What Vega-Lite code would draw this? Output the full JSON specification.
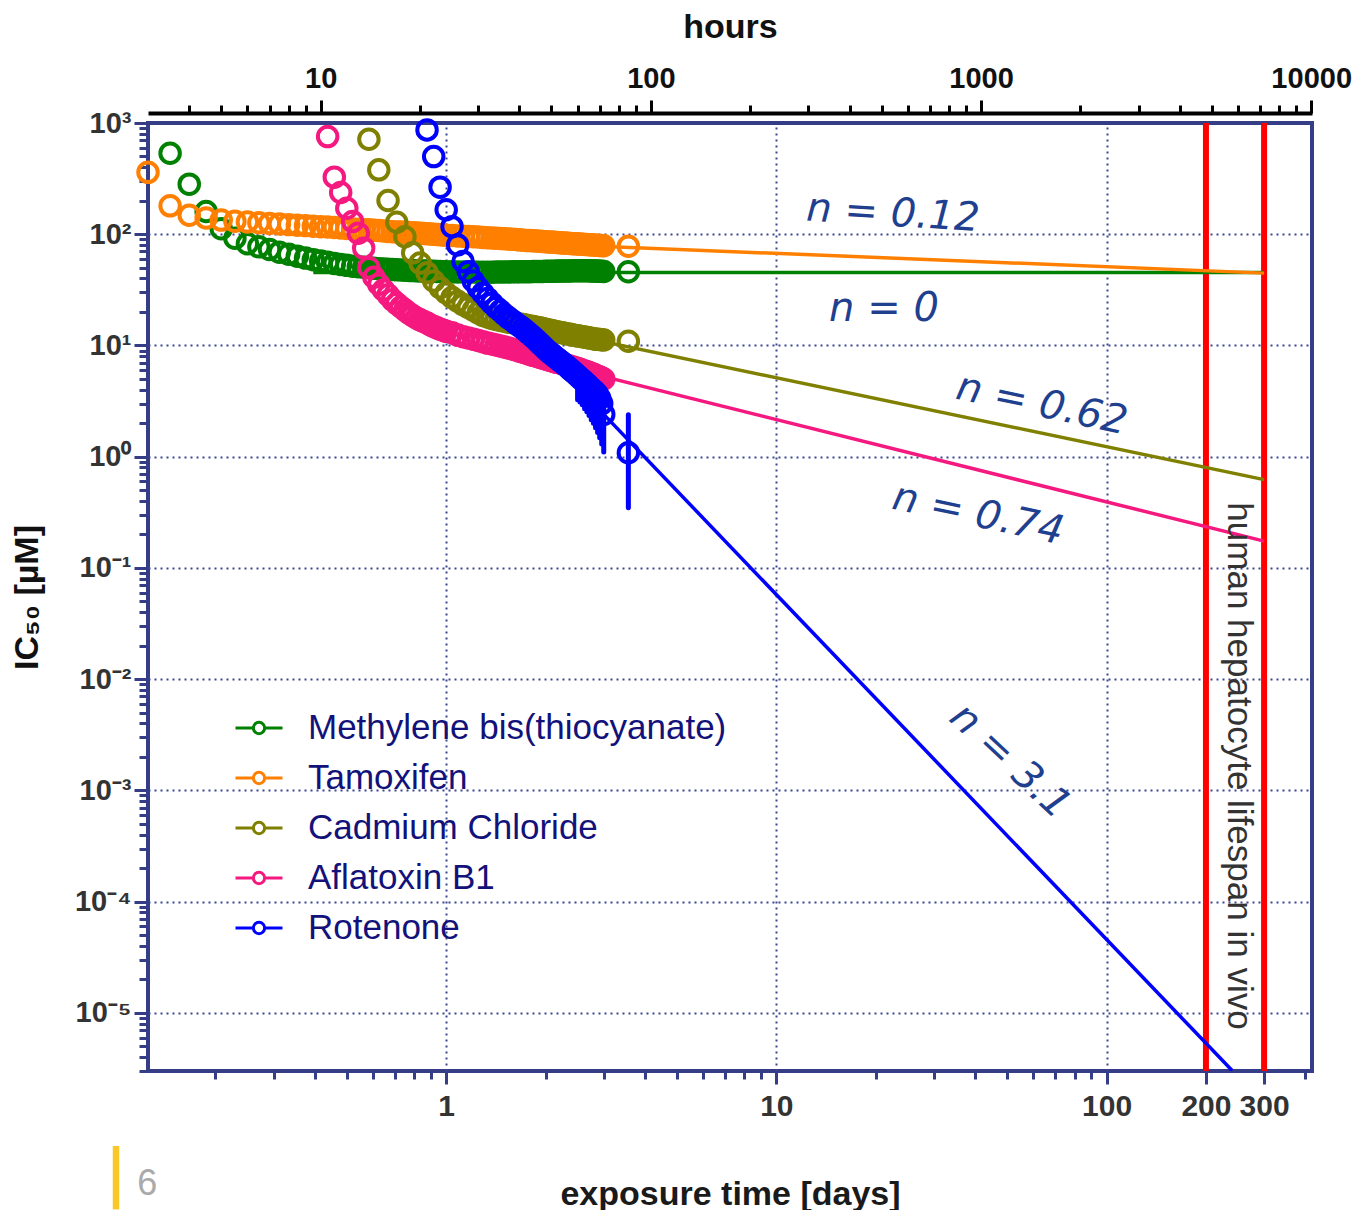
{
  "$schema": "https://vega.github.io/schema/vega-lite/v6.json",
  "autosize": {"type": "none"},
  "padding": {"left": 148, "top": 123, "right": 49, "bottom": 139},
  "width": 1164,
  "height": 948,
  "background": "white",
  "config": {
    "view": {"stroke": "#343D85", "strokeWidth": 4},
    "axis": {"labelFont": "Liberation Sans", "titleFont": "Liberation Sans", "labelFontWeight": "bold", "titleFontWeight": "bold", "labelOverlap": false, "labelFlush": false}
  },
  "datasets": {
    "pts": [
      {"c":"M","h":3.5,"v":535},{"c":"M","h":4,"v":282},{"c":"M","h":4.5,"v":160},{"c":"M","h":5,"v":112},{"c":"M","h":5.5,"v":92},{"c":"M","h":6,"v":82},{"c":"M","h":6.5,"v":77},{"c":"M","h":7,"v":73},{"c":"M","h":7.5,"v":69},{"c":"M","h":8,"v":66},{"c":"M","h":8.5,"v":63.5},{"c":"M","h":9,"v":61},{"c":"M","h":9.5,"v":59},{"c":"M","h":10,"v":57.5},{"c":"M","h":10.5,"v":56},{"c":"M","h":11,"v":54.5},{"c":"M","h":11.5,"v":53.5},{"c":"M","h":12,"v":52.5},{"c":"M","h":12.5,"v":51.5},{"c":"M","h":13,"v":51},{"c":"M","h":13.5,"v":50.5},{"c":"M","h":14,"v":50},{"c":"M","h":14.5,"v":49.5},{"c":"M","h":15,"v":49},{"c":"M","h":15.5,"v":48.7},{"c":"M","h":16,"v":48.4},{"c":"M","h":16.5,"v":48.1},{"c":"M","h":17,"v":47.9},{"c":"M","h":17.5,"v":47.7},{"c":"M","h":18,"v":47.5},{"c":"M","h":18.5,"v":47.3},{"c":"M","h":19,"v":47.1},{"c":"M","h":19.5,"v":47},{"c":"M","h":20,"v":46.8},{"c":"M","h":20.5,"v":46.7},{"c":"M","h":21,"v":46.6},{"c":"M","h":21.5,"v":46.5},{"c":"M","h":22,"v":46.4},{"c":"M","h":22.5,"v":46.3},{"c":"M","h":23,"v":46.2},{"c":"M","h":23.5,"v":46.1},{"c":"M","h":24,"v":46},
      {"c":"M","h":25,"v":45.9},{"c":"M","h":26,"v":45.8},{"c":"M","h":27,"v":45.8},{"c":"M","h":28,"v":45.7},{"c":"M","h":29,"v":45.7},{"c":"M","h":30,"v":45.6},{"c":"M","h":31,"v":45.6},{"c":"M","h":32,"v":45.6},{"c":"M","h":33,"v":45.6},{"c":"M","h":34,"v":45.7},{"c":"M","h":35,"v":45.7},{"c":"M","h":36,"v":45.8},{"c":"M","h":37,"v":45.8},{"c":"M","h":38,"v":45.9},{"c":"M","h":39,"v":45.9},{"c":"M","h":40,"v":46},{"c":"M","h":41,"v":46},{"c":"M","h":42,"v":46.1},{"c":"M","h":43,"v":46.1},{"c":"M","h":44,"v":46.2},{"c":"M","h":45,"v":46.2},{"c":"M","h":46,"v":46.3},{"c":"M","h":47,"v":46.3},{"c":"M","h":48,"v":46.4},{"c":"M","h":49,"v":46.4},{"c":"M","h":50,"v":46.5},{"c":"M","h":51,"v":46.5},{"c":"M","h":52,"v":46.6},{"c":"M","h":53,"v":46.6},{"c":"M","h":54,"v":46.7},{"c":"M","h":55,"v":46.7},{"c":"M","h":56,"v":46.8},{"c":"M","h":57,"v":46.8},{"c":"M","h":58,"v":46.9},{"c":"M","h":59,"v":46.9},{"c":"M","h":60,"v":47},{"c":"M","h":61,"v":47},{"c":"M","h":62,"v":47},{"c":"M","h":63,"v":47},{"c":"M","h":64,"v":46.9},{"c":"M","h":65,"v":46.9},{"c":"M","h":66,"v":46.8},{"c":"M","h":67,"v":46.8},{"c":"M","h":68,"v":46.7},{"c":"M","h":69,"v":46.6},{"c":"M","h":70,"v":46.5},{"c":"M","h":71,"v":46.4},{"c":"M","h":72,"v":46.2},{"c":"M","h":85.5,"v":46},
      {"c":"T","h":3,"v":360},{"c":"T","h":3.5,"v":180},{"c":"T","h":4,"v":148},{"c":"T","h":4.5,"v":140},{"c":"T","h":5,"v":134},{"c":"T","h":5.5,"v":131},{"c":"T","h":6,"v":129},{"c":"T","h":6.5,"v":127},{"c":"T","h":7,"v":125},{"c":"T","h":7.5,"v":123.5},{"c":"T","h":8,"v":122},{"c":"T","h":8.5,"v":120.5},{"c":"T","h":9,"v":119.5},{"c":"T","h":9.5,"v":118},{"c":"T","h":10,"v":117},{"c":"T","h":10.5,"v":116},{"c":"T","h":11,"v":115},{"c":"T","h":11.5,"v":114},{"c":"T","h":12,"v":112.5},{"c":"T","h":12.5,"v":111.5},{"c":"T","h":13,"v":111},{"c":"T","h":13.5,"v":110},{"c":"T","h":14,"v":109.5},{"c":"T","h":14.5,"v":108.5},{"c":"T","h":15,"v":108},{"c":"T","h":15.5,"v":107},{"c":"T","h":16,"v":106},{"c":"T","h":16.5,"v":105.5},{"c":"T","h":17,"v":105},{"c":"T","h":17.5,"v":104.5},{"c":"T","h":18,"v":104},{"c":"T","h":18.5,"v":103.5},{"c":"T","h":19,"v":103},{"c":"T","h":19.5,"v":102.5},{"c":"T","h":20,"v":102},{"c":"T","h":20.5,"v":101.5},{"c":"T","h":21,"v":101},{"c":"T","h":21.5,"v":100.5},{"c":"T","h":22,"v":100},{"c":"T","h":22.5,"v":99.5},{"c":"T","h":23,"v":99},{"c":"T","h":23.5,"v":98.5},{"c":"T","h":24,"v":98},
      {"c":"T","h":25,"v":97.5},{"c":"T","h":26,"v":96.5},{"c":"T","h":27,"v":96},{"c":"T","h":28,"v":95.5},{"c":"T","h":29,"v":95},{"c":"T","h":30,"v":94.5},{"c":"T","h":31,"v":93.5},{"c":"T","h":32,"v":93},{"c":"T","h":33,"v":92.5},{"c":"T","h":34,"v":92},{"c":"T","h":35,"v":91.5},{"c":"T","h":36,"v":91},{"c":"T","h":37,"v":90.5},{"c":"T","h":38,"v":90},{"c":"T","h":39,"v":89.5},{"c":"T","h":40,"v":89},{"c":"T","h":41,"v":88.5},{"c":"T","h":42,"v":88},{"c":"T","h":43,"v":87.7},{"c":"T","h":44,"v":87.3},{"c":"T","h":45,"v":87},{"c":"T","h":46,"v":86.5},{"c":"T","h":47,"v":86},{"c":"T","h":48,"v":85.5},{"c":"T","h":49,"v":85.2},{"c":"T","h":50,"v":85},{"c":"T","h":51,"v":84.5},{"c":"T","h":52,"v":84.2},{"c":"T","h":53,"v":84},{"c":"T","h":54,"v":83.5},{"c":"T","h":55,"v":83.2},{"c":"T","h":56,"v":83},{"c":"T","h":57,"v":82.6},{"c":"T","h":58,"v":82.3},{"c":"T","h":59,"v":82},{"c":"T","h":60,"v":81.8},{"c":"T","h":61,"v":81.5},{"c":"T","h":62,"v":81.2},{"c":"T","h":63,"v":81},{"c":"T","h":64,"v":80.7},{"c":"T","h":65,"v":80.4},{"c":"T","h":66,"v":80.2},{"c":"T","h":67,"v":80},{"c":"T","h":68,"v":79.7},{"c":"T","h":69,"v":79.5},{"c":"T","h":70,"v":79.2},{"c":"T","h":71,"v":79},{"c":"T","h":72,"v":78.8},{"c":"T","h":85.5,"v":78},
      {"c":"C","h":14,"v":715},{"c":"C","h":15,"v":379},{"c":"C","h":16,"v":201},{"c":"C","h":17,"v":128},{"c":"C","h":18,"v":95},{"c":"C","h":19,"v":68},{"c":"C","h":20,"v":55},{"c":"C","h":21,"v":45},{"c":"C","h":22,"v":38},{"c":"C","h":23,"v":33},{"c":"C","h":24,"v":29.6},{"c":"C","h":25,"v":27},{"c":"C","h":26,"v":25},{"c":"C","h":27,"v":23.3},{"c":"C","h":28,"v":22},{"c":"C","h":29,"v":20.8},{"c":"C","h":30,"v":19.6},{"c":"C","h":31,"v":18.6},{"c":"C","h":32,"v":18},{"c":"C","h":33,"v":17.5},{"c":"C","h":34,"v":17.1},{"c":"C","h":35,"v":16.8},{"c":"C","h":36,"v":16.5},{"c":"C","h":37,"v":16.2},{"c":"C","h":38,"v":16},{"c":"C","h":39,"v":15.8},{"c":"C","h":40,"v":15.6},{"c":"C","h":41,"v":15.4},{"c":"C","h":42,"v":15.2},{"c":"C","h":43,"v":15},{"c":"C","h":44,"v":14.8},{"c":"C","h":45,"v":14.6},{"c":"C","h":46,"v":14.4},{"c":"C","h":47,"v":14.2},{"c":"C","h":48,"v":14},{"c":"C","h":49,"v":13.8},{"c":"C","h":50,"v":13.6},{"c":"C","h":51,"v":13.4},{"c":"C","h":52,"v":13.3},{"c":"C","h":53,"v":13.1},{"c":"C","h":54,"v":13},{"c":"C","h":55,"v":12.8},{"c":"C","h":56,"v":12.7},{"c":"C","h":57,"v":12.6},{"c":"C","h":58,"v":12.4},{"c":"C","h":59,"v":12.3},{"c":"C","h":60,"v":12.2},{"c":"C","h":61,"v":12.1},{"c":"C","h":62,"v":12},{"c":"C","h":63,"v":11.9},{"c":"C","h":64,"v":11.8},{"c":"C","h":65,"v":11.7},{"c":"C","h":66,"v":11.6},{"c":"C","h":67,"v":11.5},{"c":"C","h":68,"v":11.4},{"c":"C","h":69,"v":11.35},{"c":"C","h":70,"v":11.3},{"c":"C","h":71,"v":11.25},{"c":"C","h":72,"v":11.2},{"c":"C","h":85.5,"v":10.9},
      {"c":"A","h":10.5,"v":755},{"c":"A","h":11,"v":326},{"c":"A","h":11.5,"v":237},{"c":"A","h":12,"v":171},{"c":"A","h":12.5,"v":130},{"c":"A","h":13,"v":102},{"c":"A","h":13.5,"v":75},{"c":"A","h":14,"v":50},{"c":"A","h":14.5,"v":41},{"c":"A","h":15,"v":35.5},{"c":"A","h":15.5,"v":31.5},{"c":"A","h":16,"v":28.5},{"c":"A","h":16.5,"v":25.7},{"c":"A","h":17,"v":23.8},{"c":"A","h":17.5,"v":22.2},{"c":"A","h":18,"v":20.8},{"c":"A","h":18.5,"v":19.5},{"c":"A","h":19,"v":18.5},{"c":"A","h":19.5,"v":17.7},{"c":"A","h":20,"v":17},{"c":"A","h":20.5,"v":16.4},{"c":"A","h":21,"v":15.9},{"c":"A","h":21.5,"v":15.3},{"c":"A","h":22,"v":14.8},{"c":"A","h":22.5,"v":14.4},{"c":"A","h":23,"v":14},{"c":"A","h":23.5,"v":13.7},{"c":"A","h":24,"v":13.4},
      {"c":"A","h":25,"v":13},{"c":"A","h":26,"v":12.4},{"c":"A","h":27,"v":12},{"c":"A","h":28,"v":11.7},{"c":"A","h":29,"v":11.4},{"c":"A","h":30,"v":11.1},{"c":"A","h":31,"v":10.8},{"c":"A","h":32,"v":10.5},{"c":"A","h":33,"v":10.3},{"c":"A","h":34,"v":10.1},{"c":"A","h":35,"v":9.9},{"c":"A","h":36,"v":9.7},{"c":"A","h":37,"v":9.5},{"c":"A","h":38,"v":9.3},{"c":"A","h":39,"v":9.1},{"c":"A","h":40,"v":8.9},{"c":"A","h":41,"v":8.7},{"c":"A","h":42,"v":8.5},{"c":"A","h":43,"v":8.3},{"c":"A","h":44,"v":8.15},{"c":"A","h":45,"v":8},{"c":"A","h":46,"v":7.85},{"c":"A","h":47,"v":7.7},{"c":"A","h":48,"v":7.55},{"c":"A","h":49,"v":7.4},{"c":"A","h":50,"v":7.3},{"c":"A","h":51,"v":7.15},{"c":"A","h":52,"v":7.05},{"c":"A","h":53,"v":6.95},{"c":"A","h":54,"v":6.85},{"c":"A","h":55,"v":6.7},{"c":"A","h":56,"v":6.6},{"c":"A","h":57,"v":6.5},{"c":"A","h":58,"v":6.4},{"c":"A","h":59,"v":6.3},{"c":"A","h":60,"v":6.2},{"c":"A","h":61,"v":6.1},{"c":"A","h":62,"v":6},{"c":"A","h":63,"v":5.9},{"c":"A","h":64,"v":5.8},{"c":"A","h":65,"v":5.7},{"c":"A","h":66,"v":5.6},{"c":"A","h":67,"v":5.5},{"c":"A","h":68,"v":5.4},{"c":"A","h":69,"v":5.3},{"c":"A","h":70,"v":5.2},{"c":"A","h":71,"v":5.1},{"c":"A","h":72,"v":5},
      {"c":"R","h":21,"v":867},{"c":"R","h":22,"v":499},{"c":"R","h":23,"v":265},{"c":"R","h":24,"v":166},{"c":"R","h":25,"v":117},{"c":"R","h":26,"v":80},{"c":"R","h":27,"v":57},{"c":"R","h":28,"v":46},{"c":"R","h":29,"v":38},{"c":"R","h":30,"v":33},{"c":"R","h":31,"v":29.5},{"c":"R","h":32,"v":26.5},{"c":"R","h":33,"v":24},{"c":"R","h":34,"v":22},{"c":"R","h":35,"v":20.5},{"c":"R","h":36,"v":19},{"c":"R","h":37,"v":17.8},{"c":"R","h":38,"v":16.8},{"c":"R","h":39,"v":15.8},{"c":"R","h":40,"v":15},{"c":"R","h":41,"v":14.2},{"c":"R","h":42,"v":13.4},{"c":"R","h":43,"v":12.6},{"c":"R","h":44,"v":11.9},{"c":"R","h":45,"v":11.2},{"c":"R","h":46,"v":10.5},{"c":"R","h":47,"v":9.9},{"c":"R","h":48,"v":9.3},{"c":"R","h":49,"v":8.8},{"c":"R","h":50,"v":8.4},{"c":"R","h":51,"v":8},{"c":"R","h":52,"v":7.65},{"c":"R","h":53,"v":7.3},{"c":"R","h":54,"v":7},{"c":"R","h":55,"v":6.7},{"c":"R","h":56,"v":6.4},{"c":"R","h":57,"v":6.1},{"c":"R","h":58,"v":5.85},{"c":"R","h":59,"v":5.6},{"c":"R","h":60,"v":5.35},{"c":"R","h":61,"v":5.1},{"c":"R","h":62,"v":4.9},{"c":"R","h":63,"v":4.7},{"c":"R","h":64,"v":4.5},{"c":"R","h":65,"v":4.3},{"c":"R","h":66,"v":4.1},{"c":"R","h":67,"v":3.95},{"c":"R","h":68,"v":3.8},{"c":"R","h":69,"v":3.6},{"c":"R","h":70,"v":3.35},{"c":"R","h":71,"v":3},{"c":"R","h":72,"v":2.4},{"c":"R","h":85.5,"v":1.086}
    ],
    "fit": [
      {"c":"M","h":9.5,"v":45.3},{"c":"M","h":7200,"v":45.3},
      {"c":"T","h":24,"v":88.7},{"c":"T","h":7200,"v":44.7},
      {"c":"C","h":36,"v":16.6},{"c":"C","h":7200,"v":0.622},
      {"c":"A","h":36,"v":8.77},{"c":"A","h":7200,"v":0.174},
      {"c":"R","h":48,"v":8.45},{"c":"R","h":5760,"v":3.03e-6}
    ],
    "err": [
      {"h":60,"lo":3.25,"hi":6.5},{"h":61,"lo":3.1,"hi":6.2},{"h":62,"lo":2.93,"hi":6},{"h":63,"lo":2.7,"hi":5.8},{"h":64,"lo":2.54,"hi":5.6},{"h":65,"lo":2.35,"hi":5.3},{"h":66,"lo":2.15,"hi":5.1},{"h":67,"lo":2,"hi":4.9},{"h":68,"lo":1.82,"hi":4.8},{"h":69,"lo":1.65,"hi":4.5},{"h":70,"lo":1.48,"hi":4.3},{"h":71,"lo":1.3,"hi":3.8},{"h":72,"lo":1.1,"hi":3.2},{"h":85.5,"lo":0.348,"hi":2.38}
    ]
  },
  "layer": [
    {
      "data": {"values": [{"h": 4800}, {"h": 7200}]},
      "mark": {"type": "rule", "color": "#FF0000", "strokeWidth": 6},
      "encoding": {
        "x": {"field": "h", "type": "quantitative", "scale": {"type": "log", "domain": [3, 10056]},
          "axis": {
            "orient": "bottom",
            "values": [4.8, 7.2, 9.6, 12, 14.4, 16.8, 19.2, 21.6, 24, 48, 72, 96, 120, 144, 168, 192, 216, 240, 480, 720, 960, 1200, 1440, 1680, 1920, 2160, 2400, 4800, 7200, 9600],
            "labelExpr": "datum.value==24?'1':datum.value==240?'10':datum.value==2400?'100':datum.value==4800?'200':datum.value==7200?'300':''",
            "tickSize": {"condition": {"test": "datum.value==24||datum.value==240||datum.value==2400||datum.value==4800||datum.value==7200", "value": 13}, "value": 8},
            "tickColor": "#343D85", "tickWidth": 3, "domain": false,
            "grid": true, "gridColor": "#3B4790", "gridDash": [2, 4], "gridWidth": 2,
            "gridOpacity": {"condition": {"test": "datum.value==24||datum.value==240||datum.value==2400", "value": 1}, "value": 0},
            "labelFontSize": 30, "labelColor": "#333333", "labelPadding": 7,
            "title": "exposure time [days]", "titleFontSize": 34, "titleColor": "#1a1a1a", "titlePadding": 56
          }
        }
      }
    },
    {
      "data": {"name": "fit"},
      "mark": {"type": "line", "strokeWidth": 3.5, "clip": true},
      "encoding": {
        "x": {"field": "h", "type": "quantitative", "scale": {"type": "log", "domain": [3, 10056]}, "axis": null},
        "y": {"field": "v", "type": "quantitative", "scale": {"type": "log", "domain": [3e-6, 1000]}, "axis": null},
        "color": {"field": "c", "type": "nominal", "scale": {"domain": ["M", "T", "C", "A", "R"], "range": ["#008000", "#FF8000", "#808000", "#F5197F", "#0000FF"]}, "legend": null}
      }
    },
    {
      "data": {"name": "err"},
      "mark": {"type": "rule", "color": "#0000FF", "strokeWidth": 5, "strokeCap": "round"},
      "encoding": {
        "x": {"field": "h", "type": "quantitative", "scale": {"type": "log", "domain": [3, 10056]}, "axis": null},
        "y": {"field": "lo", "type": "quantitative", "scale": {"type": "log", "domain": [3e-6, 1000]}, "axis": null},
        "y2": {"field": "hi"}
      }
    },
    {
      "data": {"name": "pts"},
      "mark": {"type": "point", "shape": "circle", "filled": false, "size": 380, "strokeWidth": 4, "opacity": 1},
      "encoding": {
        "x": {"field": "h", "type": "quantitative", "scale": {"type": "log", "domain": [3, 10056]},
          "axis": {
            "orient": "top", "offset": 10,
            "values": [4, 5, 6, 7, 8, 9, 10, 20, 30, 40, 50, 60, 70, 80, 90, 100, 200, 300, 400, 500, 600, 700, 800, 900, 1000, 2000, 3000, 4000, 5000, 6000, 7000, 8000, 9000, 10000],
            "labelExpr": "(datum.value==10||datum.value==100||datum.value==1000||datum.value==10000)?(''+datum.value):''",
            "tickSize": {"condition": {"test": "datum.value==10||datum.value==100||datum.value==1000||datum.value==10000", "value": 13}, "value": 8},
            "tickColor": "#000000", "tickWidth": 3, "domain": true, "domainColor": "#000000", "domainWidth": 4,
            "grid": false, "labelFontSize": 29, "labelColor": "#111111", "labelPadding": 7,
            "title": "hours", "titleFontSize": 34, "titleColor": "#111111", "titlePadding": 20
          }
        },
        "y": {"field": "v", "type": "quantitative", "scale": {"type": "log", "domain": [3e-6, 1000]},
          "axis": {
            "orient": "left",
            "values": [3e-6, 4e-6, 5e-6, 6e-6, 7e-6, 8e-6, 9e-6, 1e-5, 2e-5, 3e-5, 4e-5, 5e-5, 6e-5, 7e-5, 8e-5, 9e-5, 1e-4, 2e-4, 3e-4, 4e-4, 5e-4, 6e-4, 7e-4, 8e-4, 9e-4, 0.001, 0.002, 0.003, 0.004, 0.005, 0.006, 0.007, 0.008, 0.009, 0.01, 0.02, 0.03, 0.04, 0.05, 0.06, 0.07, 0.08, 0.09, 0.1, 0.2, 0.3, 0.4, 0.5, 0.6, 0.7, 0.8, 0.9, 1, 2, 3, 4, 5, 6, 7, 8, 9, 10, 20, 30, 40, 50, 60, 70, 80, 90, 100, 200, 300, 400, 500, 600, 700, 800, 900, 1000],
            "labelExpr": "abs(log(datum.value)/LN10-round(log(datum.value)/LN10))<0.001 ? '10'+['⁻⁵','⁻⁴','⁻³','⁻²','⁻¹','⁰','¹','²','³'][round(log(datum.value)/LN10)+5] : ''",
            "tickSize": {"condition": {"test": "abs(log(datum.value)/LN10-round(log(datum.value)/LN10))<0.001", "value": 14}, "value": 9},
            "tickColor": "#343D85", "tickWidth": 3, "domain": false,
            "grid": true, "gridColor": "#3B4790", "gridDash": [2, 4], "gridWidth": 2,
            "gridOpacity": {"condition": {"test": "abs(log(datum.value)/LN10-round(log(datum.value)/LN10))<0.001 && datum.value<999", "value": 1}, "value": 0},
            "labelFontSize": 29, "labelColor": "#333333", "labelPadding": 3,
            "title": "IC₅₀ [µM]", "titleFontSize": 34, "titleColor": "#111111", "titlePadding": 30
          }
        },
        "color": {"field": "c", "type": "nominal", "scale": {"domain": ["M", "T", "C", "A", "R"], "range": ["#008000", "#FF8000", "#808000", "#F5197F", "#0000FF"]},
          "legend": {
            "orient": "none", "legendX": 86, "legendY": 580, "title": null, "padding": 0,
            "symbolType": "M-1,0L-0.24,0M0.24,0L1,0M-0.24,0A0.24,0.24,0,1,1,0.24,0A0.24,0.24,0,1,1,-0.24,0",
            "symbolSize": 2209, "symbolStrokeWidth": 3,
            "labelFont": "Liberation Sans", "labelFontSize": 35, "labelColor": "#12127A", "labelOffset": 24, "rowPadding": 7, "labelLimit": 600,
            "labelExpr": "datum.label=='M'?'Methylene bis(thiocyanate)':datum.label=='T'?'Tamoxifen':datum.label=='C'?'Cadmium Chloride':datum.label=='A'?'Aflatoxin B1':'Rotenone'"
          }
        }
      }
    },
    {
      "data": {"values": [{"h": 541.4, "v": 152.5, "t": "n = 0.12"}]},
      "mark": {"type": "text", "angle": 3.5, "font": "DejaVu Sans", "fontStyle": "italic", "fontSize": 40, "color": "#1F3F8F", "align": "center", "baseline": "middle"},
      "encoding": {
        "x": {"field": "h", "type": "quantitative", "scale": {"type": "log", "domain": [3, 10056]}, "axis": null},
        "y": {"field": "v", "type": "quantitative", "scale": {"type": "log", "domain": [3e-6, 1000]}, "axis": null},
        "text": {"field": "t"}
      }
    },
    {
      "data": {"values": [{"h": 508.3, "v": 21.4, "t": "n = 0"}]},
      "mark": {"type": "text", "angle": 0, "font": "DejaVu Sans", "fontStyle": "italic", "fontSize": 40, "color": "#1F3F8F", "align": "center", "baseline": "middle"},
      "encoding": {
        "x": {"field": "h", "type": "quantitative", "scale": {"type": "log", "domain": [3, 10056]}, "axis": null},
        "y": {"field": "v", "type": "quantitative", "scale": {"type": "log", "domain": [3e-6, 1000]}, "axis": null},
        "text": {"field": "t"}
      }
    },
    {
      "data": {"values": [{"h": 1528.8, "v": 2.93, "t": "n = 0.62"}, {"h": 979, "v": 0.301, "t": "n = 0.74"}]},
      "mark": {"type": "text", "angle": 12, "font": "DejaVu Sans", "fontStyle": "italic", "fontSize": 40, "color": "#1F3F8F", "align": "center", "baseline": "middle"},
      "encoding": {
        "x": {"field": "h", "type": "quantitative", "scale": {"type": "log", "domain": [3, 10056]}, "axis": null},
        "y": {"field": "v", "type": "quantitative", "scale": {"type": "log", "domain": [3e-6, 1000]}, "axis": null},
        "text": {"field": "t"}
      }
    },
    {
      "data": {"values": [{"h": 1224, "v": 0.00182, "t": "n = 3.1"}]},
      "mark": {"type": "text", "angle": 43, "font": "DejaVu Sans", "fontStyle": "italic", "fontSize": 40, "color": "#1F3F8F", "align": "center", "baseline": "middle"},
      "encoding": {
        "x": {"field": "h", "type": "quantitative", "scale": {"type": "log", "domain": [3, 10056]}, "axis": null},
        "y": {"field": "v", "type": "quantitative", "scale": {"type": "log", "domain": [3e-6, 1000]}, "axis": null},
        "text": {"field": "t"}
      }
    },
    {
      "data": {"values": [{"h": 6038, "v": 0.001656, "t": "human hepatocyte lifespan in vivo"}]},
      "mark": {"type": "text", "angle": 90, "font": "Liberation Sans", "fontSize": 35, "color": "#333333", "align": "center", "baseline": "middle"},
      "encoding": {
        "x": {"field": "h", "type": "quantitative", "scale": {"type": "log", "domain": [3, 10056]}, "axis": null},
        "y": {"field": "v", "type": "quantitative", "scale": {"type": "log", "domain": [3e-6, 1000]}, "axis": null},
        "text": {"field": "t"}
      }
    },
    {
      "data": {"values": [{"h": 2.4, "v": 6.35e-7, "v2": 1.71e-7}]},
      "mark": {"type": "rule", "color": "#F8C828", "strokeWidth": 6.5},
      "encoding": {
        "x": {"field": "h", "type": "quantitative", "scale": {"type": "log", "domain": [3, 10056]}, "axis": null},
        "y": {"field": "v", "type": "quantitative", "scale": {"type": "log", "domain": [3e-6, 1000]}, "axis": null},
        "y2": {"field": "v2"}
      }
    },
    {
      "data": {"values": [{"h": 2.985, "v": 2.9e-7, "t": "6"}]},
      "mark": {"type": "text", "font": "Liberation Sans", "fontSize": 36, "color": "#AAAAAA", "align": "center", "baseline": "middle"},
      "encoding": {
        "x": {"field": "h", "type": "quantitative", "scale": {"type": "log", "domain": [3, 10056]}, "axis": null},
        "y": {"field": "v", "type": "quantitative", "scale": {"type": "log", "domain": [3e-6, 1000]}, "axis": null},
        "text": {"field": "t"}
      }
    }
  ],
  "resolve": {"axis": {"x": "independent", "y": "independent"}, "legend": {"color": "independent"}}
}
